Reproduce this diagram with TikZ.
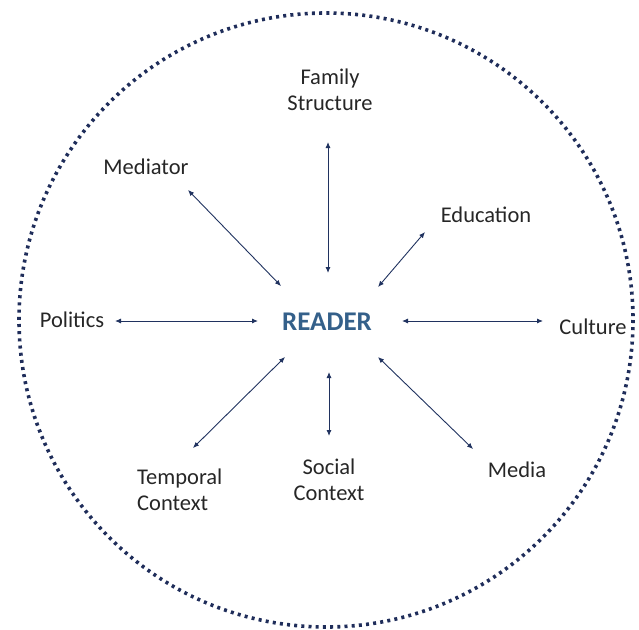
\documentclass[tikz,border=0pt]{standalone}
\usepackage{fontspec}
\setmainfont{Carlito}
\usetikzlibrary{arrows.meta}
\definecolor{navy}{RGB}{31,45,90}
\definecolor{arrowc}{RGB}{32,50,95}
\definecolor{readerc}{RGB}{52,96,138}
\definecolor{txt}{RGB}{38,38,38}
\tikzset{
  lbl/.style={inner sep=0pt, text=txt, font=\fontsize{22.5}{26}\selectfont},
  link/.style={arrowc, line width=0.9pt, {Latex[length=6pt,width=5pt]}-{Latex[length=6pt,width=5pt]}},
  ring/.style={navy, line width=3.6pt, dash pattern=on 3pt off 4.2pt}
}
\begin{document}
\begin{tikzpicture}[x=1pt,y=-1pt]
\useasboundingbox (0,0) rectangle (639,629);
\draw[ring] (326,320) circle[radius=307];
\node[lbl, align=center] (fam) at (330,90) {Family\\Structure};
\node[lbl] (med) at (146,167) {Mediator};
\node[lbl] (edu) at (486,215) {Education};
\node[lbl] (pol) at (72,320) {Politics};
\node[inner sep=0pt, text=readerc, font=\fontsize{27}{30}\selectfont\bfseries] (reader) at (327,322) {READER};
\node[lbl] (cul) at (593,327) {Culture};
\node[lbl, align=left, anchor=west] (tem) at (137,490) {Temporal\\Context};
\node[lbl, align=center] (soc) at (329,480) {Social\\Context};
\node[lbl] (media) at (517,470) {Media};
\coordinate (famA) at (328,142); \coordinate (famB) at (328,273);
\coordinate (medA) at (188,190); \coordinate (medB) at (281,286);
\coordinate (eduA) at (425,232); \coordinate (eduB) at (378,287);
\coordinate (polA) at (115,321); \coordinate (polB) at (258,321);
\coordinate (culA) at (543,321); \coordinate (culB) at (402,321);
\coordinate (temA) at (193,448); \coordinate (temB) at (285,357);
\coordinate (socA) at (329,436); \coordinate (socB) at (329,372);
\coordinate (mediaA) at (473,449); \coordinate (mediaB) at (378,357);
\draw[link] (famA) -- (famB);
\draw[link] (medA) -- (medB);
\draw[link] (eduA) -- (eduB);
\draw[link] (polA) -- (polB);
\draw[link] (culA) -- (culB);
\draw[link] (temA) -- (temB);
\draw[link] (socA) -- (socB);
\draw[link] (mediaA) -- (mediaB);
\end{tikzpicture}
\end{document}
